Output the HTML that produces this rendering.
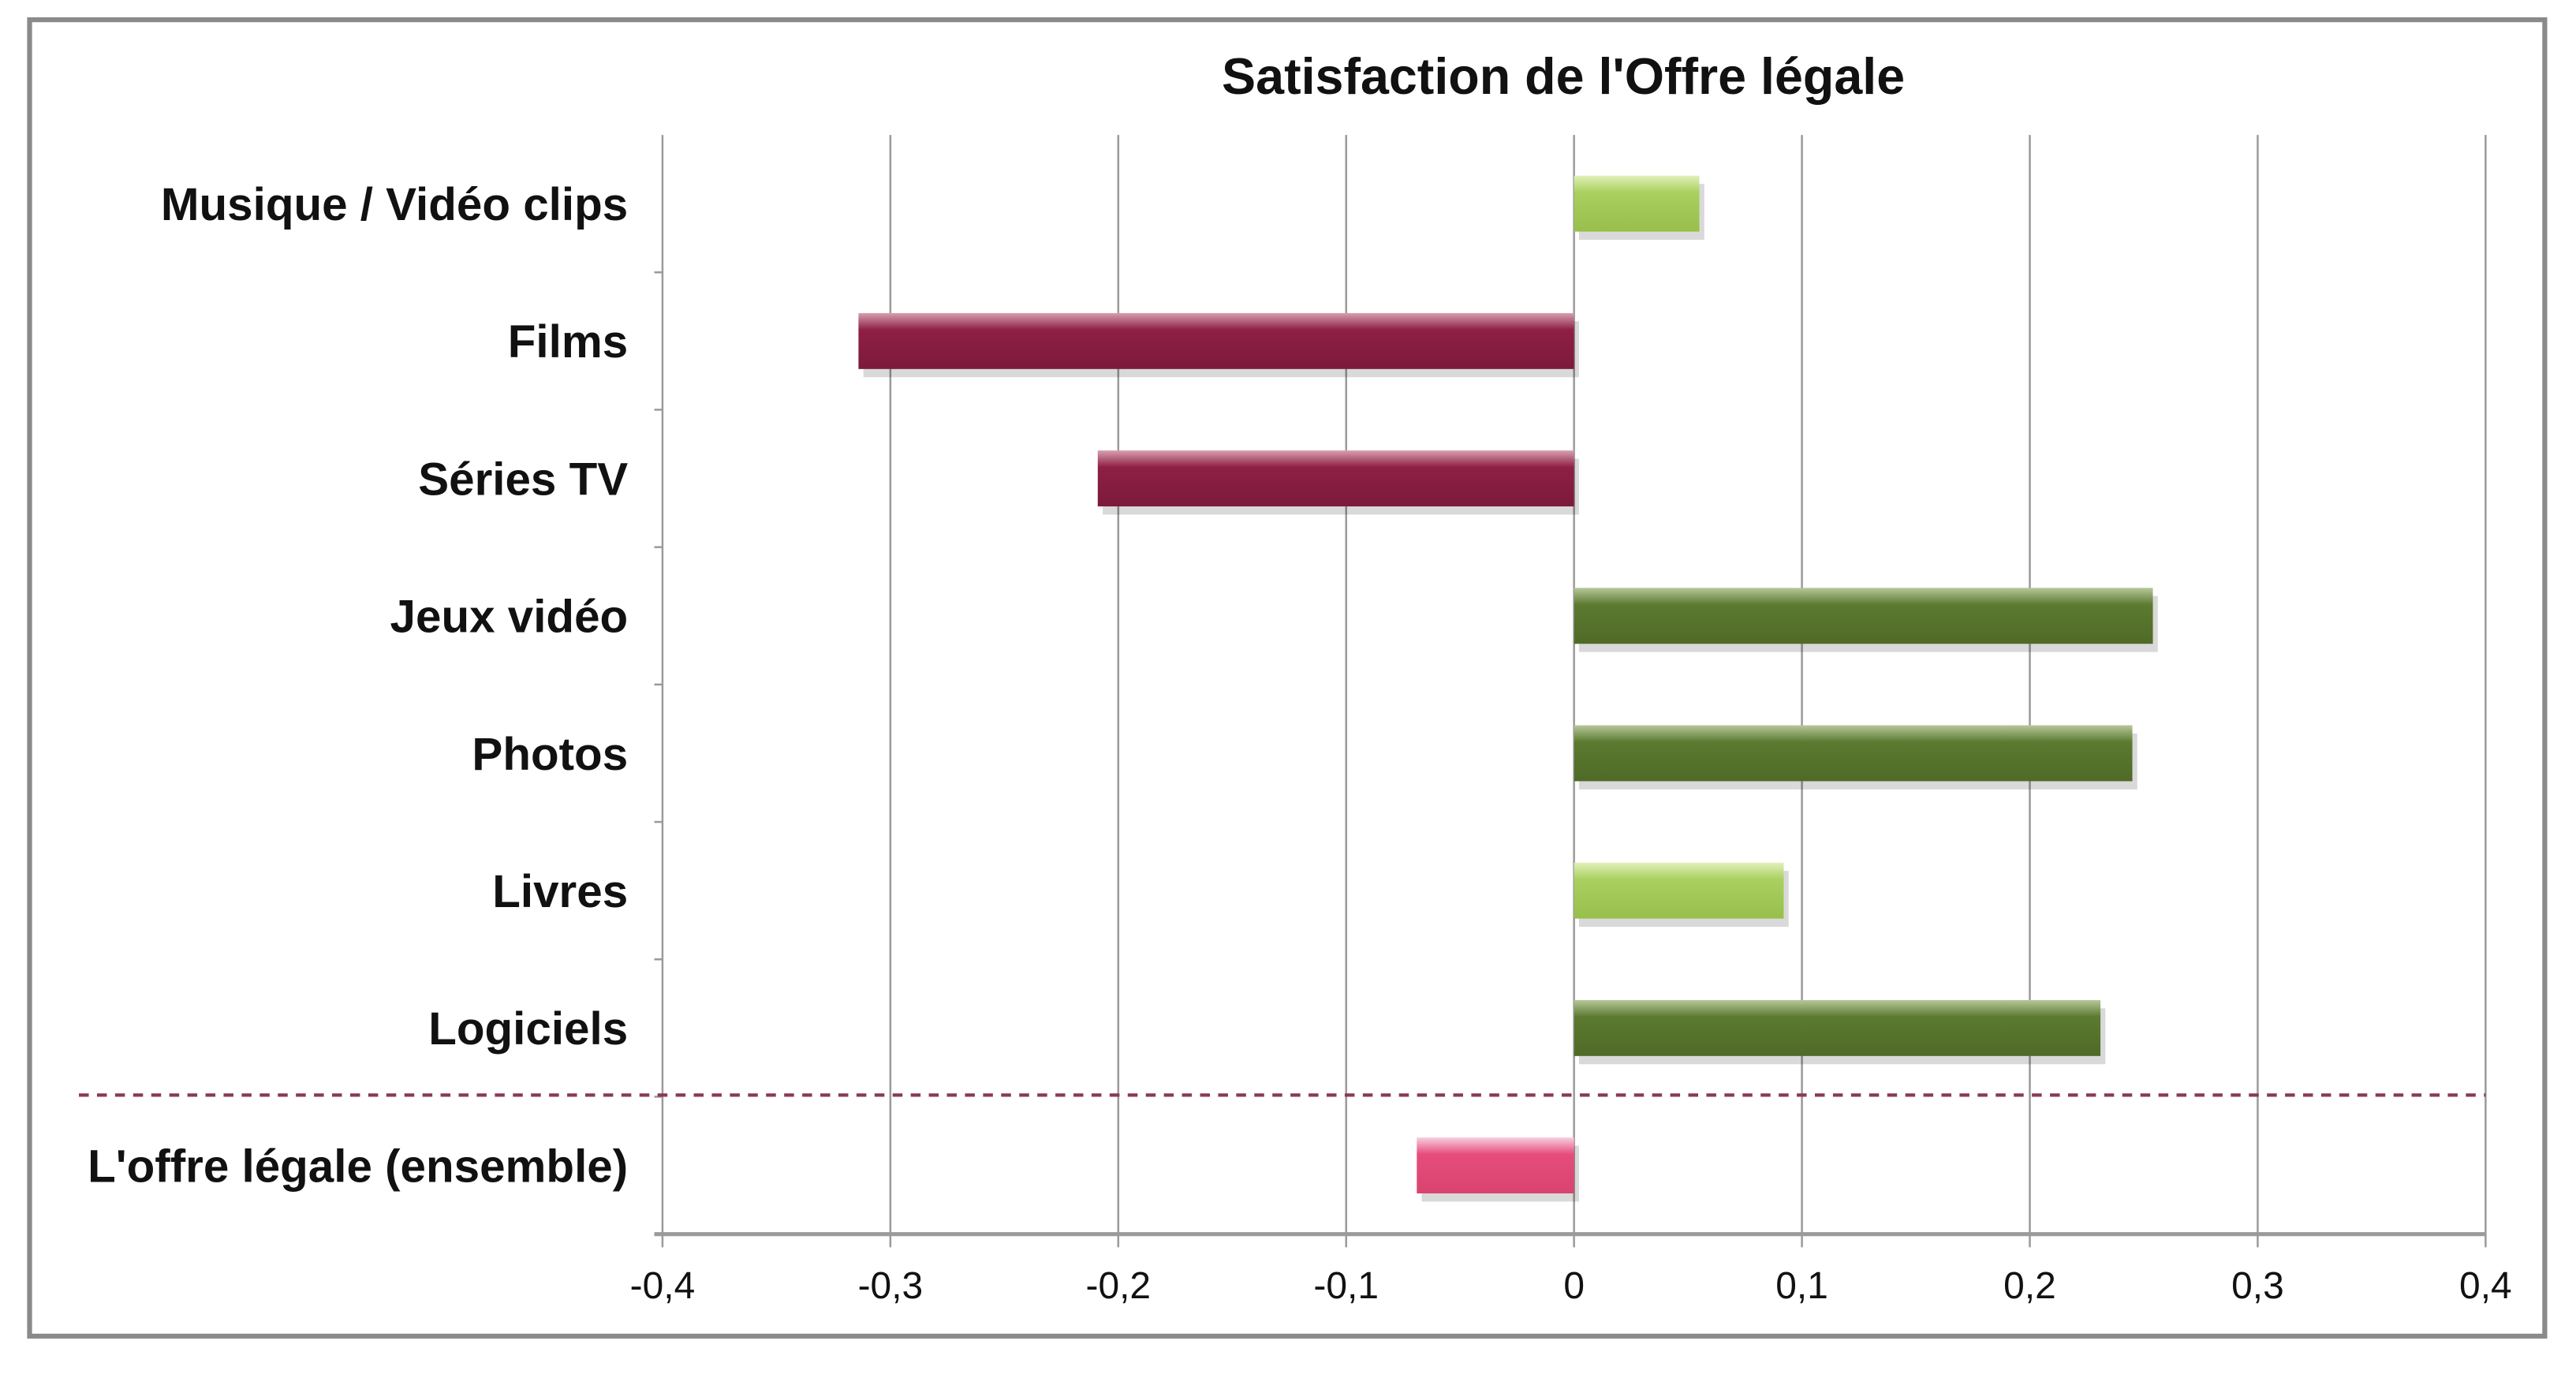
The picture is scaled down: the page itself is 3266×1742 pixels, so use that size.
<!DOCTYPE html>
<html><head><meta charset="utf-8"><style>
html,body{margin:0;padding:0;background:#fff;}
svg{display:block;font-family:"Liberation Sans",Arial,sans-serif;}
</style></head><body>
<svg id="chart" width="3266" height="1742" viewBox="0 0 1567 835" preserveAspectRatio="none" xmlns="http://www.w3.org/2000/svg">
<defs>
<linearGradient id="gl" x1="0" y1="0" x2="0" y2="1"><stop offset="0" stop-color="#e2f0b8"/><stop offset="0.3" stop-color="#a9d060"/><stop offset="1" stop-color="#98bf4c"/></linearGradient>
<linearGradient id="gd" x1="0" y1="0" x2="0" y2="1"><stop offset="0" stop-color="#b7c79a"/><stop offset="0.3" stop-color="#5c7a30"/><stop offset="1" stop-color="#4f6a28"/></linearGradient>
<linearGradient id="gm" x1="0" y1="0" x2="0" y2="1"><stop offset="0" stop-color="#d7a0b0"/><stop offset="0.3" stop-color="#8e1f45"/><stop offset="1" stop-color="#7c1a3b"/></linearGradient>
<linearGradient id="gp" x1="0" y1="0" x2="0" y2="1"><stop offset="0" stop-color="#f7cfe0"/><stop offset="0.3" stop-color="#e64c7e"/><stop offset="1" stop-color="#d8446f"/></linearGradient>
</defs>
<rect x="18" y="12" width="1530" height="800" fill="#fff" stroke="#8a8a8a" stroke-width="3"/>
<text x="951" y="57" text-anchor="middle" font-size="31" font-weight="bold" fill="#111">Satisfaction de l'Offre  légale</text>
<g id="grid"></g><g id="bars"></g><g id="labels"></g>
</svg>
<script>
const categories=["Musique / Vidéo clips","Films","Séries TV","Jeux vidéo","Photos","Livres","Logiciels","L'offre légale (ensemble)"];
const values=[0.055,-0.314,-0.209,0.254,0.245,0.092,0.231,-0.069];
const colorKeys=["gl","gm","gm","gd","gd","gl","gd","gp"];
const ticks=[-0.4,-0.3,-0.2,-0.1,0,0.1,0.2,0.3,0.4];
const tickLabels=["-0,4","-0,3","-0,2","-0,1","0","0,1","0,2","0,3","0,4"];
const NS="http://www.w3.org/2000/svg";
const xLeft=403,xRight=1512,yTop=82,yBottom=750;
const xs=v=>xLeft+(v+0.4)/0.8*(xRight-xLeft);
const rowH=(yBottom-yTop)/categories.length;
const ys=i=>yTop+rowH*(i+0.5);
function mk(t,a,p){const e=document.createElementNS(NS,t);for(const k in a)e.setAttribute(k,a[k]);p.appendChild(e);return e;}
const grid=document.getElementById('grid'),bars=document.getElementById('bars'),labels=document.getElementById('labels');
ticks.forEach((t,i)=>{
  const g=mk('line',{x1:xs(t),x2:xs(t),y1:yTop,y2:yBottom+8,stroke:'#9a9a9a','stroke-width':1.2},grid);
  
  
  const tl=mk('text',{x:xs(t),y:yBottom+39,'text-anchor':'middle','font-size':23,fill:'#111'},labels);
  tl.textContent=tickLabels[i];
  
  
});
const ax=mk('line',{x1:398,x2:xRight,y1:yBottom,y2:yBottom,stroke:'#9a9a9a','stroke-width':2.5},grid);


for(let i=1;i<categories.length;i++){
  const tk=mk('line',{x1:398,x2:403,y1:yTop+rowH*i,y2:yTop+rowH*i,stroke:'#9a9a9a','stroke-width':1.2},grid);
  
  
}
const dl=mk('line',{x1:48,x2:xRight,y1:yTop+rowH*7-1,y2:yTop+rowH*7-1,stroke:'#8a3a55','stroke-width':2,'stroke-dasharray':'6,5'},grid);


categories.forEach((c,i)=>{
  const v=values[i],a=xs(Math.min(0,v)),w=Math.abs(xs(v)-xs(0)),y=ys(i)-17;
  const sh=mk('rect',{x:a+3,y:y+5,width:w,height:34,fill:'#000',opacity:0.15},bars);
  
  
  const b=mk('rect',{x:a,y:y,width:w,height:34,fill:'url(#'+colorKeys[i]+')'},bars);
  
  
  const t=mk('text',{x:382,y:ys(i)+10,'text-anchor':'end','font-size':28,'font-weight':'bold',fill:'#111'},labels);
  t.textContent=c;
  
  
});
</script>
</body></html>
